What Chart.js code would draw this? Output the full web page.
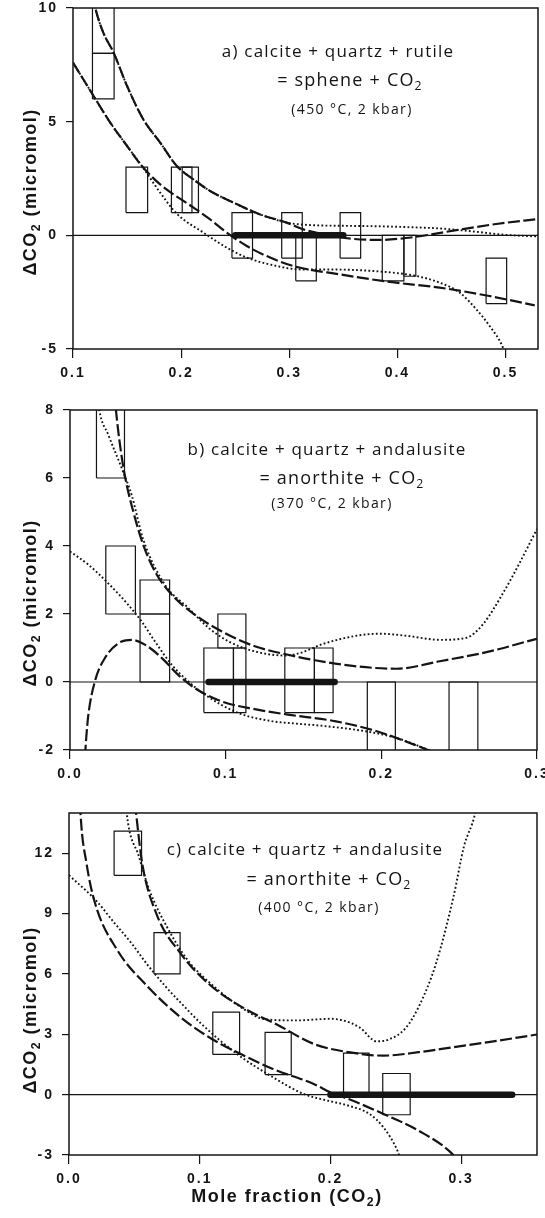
<!DOCTYPE html>
<html>
<head>
<meta charset="utf-8">
<script src="https://cdn.jsdelivr.net/npm/chart.js@4.4.0/dist/chart.umd.min.js"></script>
<style>
  html, body { margin: 0; padding: 0; background: #fff; }
  #wrap { position: relative; width: 545px; height: 1218px; overflow: hidden; }
  #wrap canvas { position: absolute; left: 0; }
</style>
</head>
<body>
<div id="wrap">
  <canvas id="panel-a"></canvas>
  <canvas id="panel-b"></canvas>
  <canvas id="panel-c"></canvas>
</div>
<script>
/* ---------- panel a : calcite + quartz + rutile = sphene + CO2 (450 °C) ---------- */
const aXRange = [0.1, 0.53];
const aYRange = [-5, 10];
const aXTicks = [0.1, 0.2, 0.3, 0.4, 0.5];
const aYTicks = [-5, 0, 5, 10];
// [x1, x2, yLow, yHigh]
const aBoxes = [
  [0.118, 0.138, 8, 10.5], [0.118, 0.138, 6, 8], [0.149, 0.169, 1, 3],
  [0.191, 0.210, 1, 3], [0.201, 0.216, 1, 3], [0.247, 0.266, -1, 1],
  [0.293, 0.312, -1, 1], [0.306, 0.325, -2, 0], [0.347, 0.366, -1, 1],
  [0.386, 0.406, -2, 0], [0.406, 0.417, -1.8, 0], [0.482, 0.501, -3, -1]
];
const aBar = [0.25, 0.35];
const aUpperDash = [
  [0.118, 10.6], [0.1206, 10.0], [0.128, 8.92], [0.1375, 8.04], [0.15, 6.57], [0.165, 5.1],
  [0.1806, 4.08], [0.196, 3.05], [0.2114, 2.46], [0.2268, 1.95], [0.2483, 1.44],
  [0.273, 0.92], [0.2976, 0.56], [0.313, 0.26], [0.335, 0.02], [0.3576, -0.15],
  [0.3838, -0.2], [0.4145, -0.08], [0.4545, 0.23], [0.4915, 0.5], [0.53, 0.72]
];
const aUpperDot = [
  [0.118, 10.6], [0.1206, 10.0], [0.128, 8.92], [0.1375, 8.04], [0.15, 6.57], [0.165, 5.1],
  [0.1806, 4.08], [0.196, 3.05], [0.2114, 2.46], [0.2268, 1.95], [0.2483, 1.44],
  [0.273, 0.92], [0.2976, 0.56], [0.32, 0.45], [0.35, 0.42], [0.38, 0.4],
  [0.41, 0.36], [0.44, 0.3], [0.47, 0.17], [0.5, 0.02], [0.53, -0.05]
];
const aLowerDash = [
  [0.1, 7.6], [0.119, 6.13], [0.1344, 4.96], [0.15, 3.93], [0.1637, 3.05], [0.1806, 2.24],
  [0.2114, 1.22], [0.2268, 0.7], [0.2422, 0.12], [0.2607, -0.47], [0.279, -0.91],
  [0.3037, -1.35], [0.347, -1.72], [0.393, -2.05], [0.439, -2.3], [0.485, -2.67], [0.527, -3.08]
];
const aLowerDot = [
  [0.1, 7.6], [0.119, 6.13], [0.1344, 4.96], [0.15, 3.93], [0.1637, 3.05], [0.1806, 1.88],
  [0.196, 0.95], [0.2206, 0.12], [0.2422, -0.54], [0.2607, -0.98], [0.2884, -1.35],
  [0.31, -1.5], [0.3314, -1.5], [0.3776, -1.57], [0.4176, -1.79], [0.439, -2.08],
  [0.4576, -2.52], [0.473, -3.26], [0.4853, -3.99], [0.4976, -4.94], [0.5, -5.3]
];

/* ---------- panel b : calcite + quartz + andalusite (370 °C) ---------- */
const bXRange = [0, 0.3];
const bYRange = [-2, 8];
const bXTicks = [0, 0.1, 0.2, 0.3];
const bYTicks = [-2, 0, 2, 4, 6, 8];
const bBoxes = [
  [0.017, 0.035, 6, 8.5], [0.023, 0.042, 2, 4], [0.045, 0.064, 2, 3], [0.045, 0.064, 0, 2],
  [0.086, 0.105, -0.9, 1], [0.095, 0.113, 1, 2], [0.105, 0.113, -0.9, 1],
  [0.138, 0.157, -0.9, 1], [0.157, 0.169, -0.9, 1],
  [0.191, 0.209, -2.2, 0], [0.2435, 0.262, -2.2, 0]
];
const bBar = [0.089, 0.17];
const bUpperDash = [
  [0.0285, 8.5], [0.0295, 8], [0.0321, 6.98], [0.0353, 6.05], [0.0406, 5.02], [0.047, 4.04],
  [0.0546, 3.25], [0.0653, 2.57], [0.0802, 1.98], [0.0973, 1.49], [0.1187, 1.05],
  [0.1401, 0.8], [0.1562, 0.65], [0.184, 0.46], [0.2097, 0.39], [0.2375, 0.61],
  [0.2696, 0.9], [0.2974, 1.24], [0.3, 1.27]
];
const bUpperDot = [
  [0.0175, 8.5], [0.0188, 8], [0.0246, 7.27], [0.0332, 6.29], [0.0396, 5.5], [0.047, 4.2],
  [0.061, 2.86], [0.0759, 2.18], [0.0888, 1.6], [0.1016, 1.2], [0.1187, 0.9], [0.138, 0.78],
  [0.1476, 0.85], [0.1626, 1.12], [0.184, 1.36], [0.199, 1.42], [0.216, 1.36], [0.2375, 1.24],
  [0.2546, 1.3], [0.2653, 1.7], [0.278, 2.6], [0.2888, 3.5], [0.3, 4.5]
];
const bHumpDash = [
  [0.0096, -2.2], [0.0105, -1.6], [0.0118, -0.96], [0.016, 0.02], [0.0225, 0.71],
  [0.0332, 1.19], [0.0396, 1.24], [0.0481, 1.1], [0.0589, 0.71], [0.0695, 0.21],
  [0.0802, -0.18], [0.0973, -0.57], [0.1187, -0.8], [0.1401, -0.96], [0.17, -1.15],
  [0.195, -1.42], [0.21, -1.65], [0.23, -2.0], [0.236, -2.1]
];
const bLowerDot = [
  [0, 3.84], [0.0118, 3.45], [0.0246, 2.9], [0.0374, 2.27], [0.046, 1.78], [0.0546, 1.19],
  [0.0653, 0.51], [0.0759, 0.02], [0.0866, -0.37], [0.108, -0.91], [0.1294, -1.15],
  [0.1444, -1.22], [0.16, -1.28], [0.19, -1.45], [0.21, -1.65], [0.225, -1.9], [0.233, -2.05]
];

/* ---------- panel c : calcite + quartz + andalusite (400 °C) ---------- */
const cXRange = [0, 0.358];
const cYRange = [-3, 14];
const cXTicks = [0, 0.1, 0.2, 0.3];
const cYTicks = [-3, 0, 3, 6, 9, 12];
const cBoxes = [
  [0.0345, 0.0555, 10.9, 13.1], [0.065, 0.085, 6, 8.05], [0.11, 0.1305, 2, 4.1],
  [0.15, 0.17, 1, 3.1], [0.21, 0.2295, 0, 2.06], [0.24, 0.261, -1, 1.05]
];
const cBar = [0.2, 0.339];
const cUpperDash = [
  [0.0505, 14.5], [0.0513, 14], [0.056, 11.5], [0.0668, 9.0], [0.0856, 7.0], [0.107, 5.5],
  [0.1337, 4.3], [0.1604, 3.44], [0.1872, 2.52], [0.2139, 2.11], [0.2406, 1.94],
  [0.2674, 2.11], [0.2941, 2.36], [0.3209, 2.61], [0.358, 2.99]
];
const cUpperDot = [
  [0.0435, 14.5], [0.0441, 14], [0.0535, 11.83], [0.0615, 10.17], [0.0749, 8.34],
  [0.0909, 6.68], [0.1123, 5.3], [0.1337, 4.25], [0.1497, 3.75], [0.1738, 3.69],
  [0.2005, 3.77], [0.2219, 3.36], [0.2353, 2.65], [0.245, 2.75], [0.2574, 3.3],
  [0.2674, 4.35], [0.2807, 6.51], [0.2941, 9.83], [0.3021, 12.33], [0.3107, 14], [0.312, 14.5]
];
const cLowerDash = [
  [0.0085, 14.5], [0.0088, 14], [0.0134, 11.5], [0.02, 9.5], [0.037, 7.18], [0.0605, 5.35],
  [0.0853, 3.85], [0.109, 2.78], [0.131, 2.03], [0.156, 1.28], [0.1872, 0.53],
  [0.201, 0.08], [0.2139, -0.22], [0.2406, -0.96], [0.2674, -1.79], [0.2928, -2.92], [0.295, -3.1]
];
const cLowerDot = [
  [0, 10.91], [0.0214, 9.6], [0.0339, 8.6], [0.0481, 7.5], [0.0595, 6.5], [0.0749, 5.3],
  [0.085, 4.6], [0.1016, 3.5], [0.1283, 2.03], [0.1551, 0.9], [0.18, 0.02], [0.1979, -0.3],
  [0.2139, -0.55], [0.2299, -0.96], [0.2406, -1.63], [0.2513, -2.79], [0.253, -3.1]
];

/* ---------- drawing ---------- */
const INK = '#141414';
const W = 545;

const pts = arr => arr.map(p => ({ x: p[0], y: p[1] }));
const boxPath = b => [[b[0], b[2]], [b[1], b[2]], [b[1], b[3]], [b[0], b[3]], [b[0], b[2]]];

// rich text: strings are normal text, {sub: '2'} is a subscript
function drawRich(ctx, parts, cx, cy, o) {
  const fontOf = s => `${o.weight || 'normal'} ${s}px ${o.family}`;
  ctx.letterSpacing = (o.ls || 0) + 'px';
  let total = 0;
  parts.forEach(p => {
    const sub = typeof p !== 'string';
    ctx.font = fontOf(sub ? o.size * 0.68 : o.size);
    total += ctx.measureText(sub ? p.sub : p).width;
  });
  let x = cx - total / 2;
  ctx.textAlign = 'left';
  ctx.textBaseline = 'middle';
  ctx.fillStyle = INK;
  parts.forEach(p => {
    const sub = typeof p !== 'string';
    ctx.font = fontOf(sub ? o.size * 0.68 : o.size);
    const t = sub ? p.sub : p;
    ctx.fillText(t, x, sub ? cy + o.size * 0.3 : cy);
    x += ctx.measureText(t).width;
  });
  ctx.letterSpacing = '0px';
}

const NOTE1 = { family: '"Open Sans", sans-serif', size: 17, ls: 1.2 };
const NOTE2 = { family: '"Open Sans", sans-serif', size: 18, ls: 1.2 };
const NOTE3 = { family: '"Open Sans", sans-serif', size: 14, ls: 1.4 };
const TITLE = { family: '"Liberation Sans", Arial, sans-serif', size: 18, weight: 'bold', ls: 1.5 };
const Y_TITLE = ['\u0394CO', { sub: '2' }, ' (micromol)'];

const panels = [
  {
    id: 'panel-a', top: 0, height: 395,
    area: { left: 73, right: 538, top: 8, bottom: 349 },
    xRange: aXRange, yRange: aYRange, xTicks: aXTicks, yTicks: aYTicks,
    boxes: aBoxes, bar: aBar,
    dotted: [aUpperDot, aLowerDot], dashed: [aUpperDash, aLowerDash],
    notes: [
      { parts: ['a) calcite + quartz + rutile'], x: 338, y: 52, f: NOTE1 },
      { parts: ['= sphene + CO', { sub: '2' }], x: 350, y: 81, f: NOTE2 },
      { parts: ['(450 \u00B0C, 2 kbar)'], x: 352, y: 110, f: NOTE3 }
    ],
    yTitleY: 192
  },
  {
    id: 'panel-b', top: 395, height: 405,
    area: { left: 70, right: 537, top: 15, bottom: 355 },
    xRange: bXRange, yRange: bYRange, xTicks: bXTicks, yTicks: bYTicks,
    boxes: bBoxes, bar: bBar,
    dotted: [bUpperDot, bLowerDot], dashed: [bUpperDash, bHumpDash],
    notes: [
      { parts: ['b) calcite + quartz + andalusite'], x: 327, y: 55, f: NOTE1 },
      { parts: ['= anorthite + CO', { sub: '2' }], x: 342, y: 84, f: NOTE2 },
      { parts: ['(370 \u00B0C, 2 kbar)'], x: 332, y: 109, f: NOTE3 }
    ],
    yTitleY: 208
  },
  {
    id: 'panel-c', top: 800, height: 418,
    area: { left: 69, right: 537, top: 13, bottom: 355 },
    xRange: cXRange, yRange: cYRange, xTicks: cXTicks, yTicks: cYTicks,
    boxes: cBoxes, bar: cBar,
    dotted: [cUpperDot, cLowerDot], dashed: [cUpperDash, cLowerDash],
    notes: [
      { parts: ['c) calcite + quartz + andalusite'], x: 305, y: 50, f: NOTE1 },
      { parts: ['= anorthite + CO', { sub: '2' }], x: 329, y: 80, f: NOTE2 },
      { parts: ['(400 \u00B0C, 2 kbar)'], x: 319, y: 108, f: NOTE3 }
    ],
    yTitleY: 210,
    xTitle: { parts: ['Mole fraction (CO', { sub: '2' }, ')'], x: 287, y: 397 }
  }
];

function lineSet(data, extra) {
  return Object.assign({
    data: pts(data), showLine: true, fill: false, pointRadius: 0,
    borderColor: INK, borderWidth: 1.2, tension: 0
  }, extra || {});
}

function buildDatasets(p) {
  const ds = [];
  p.boxes.forEach(b => ds.push(lineSet(boxPath(b), { borderJoinStyle: 'miter' })));
  ds.push(lineSet([[p.xRange[0], 0], [p.xRange[1], 0]], { borderWidth: 1.1 }));
  p.dotted.forEach(c => ds.push(lineSet(c, {
    borderWidth: 1.9, borderDash: [1.8, 2.3], cubicInterpolationMode: 'monotone', capBezierPoints: false
  })));
  p.dashed.forEach(c => ds.push(lineSet(c, {
    borderWidth: 2.2, borderDash: [12, 3.5], cubicInterpolationMode: 'monotone', capBezierPoints: false
  })));
  ds.push(lineSet([[p.bar[0], 0], [p.bar[1], 0]], { borderWidth: 6.5, borderCapStyle: 'round' }));
  return ds;
}

const tickFont = { family: '"Liberation Sans", Arial, sans-serif', size: 14, weight: 'bold' };

panels.forEach(p => {
  const canvas = document.getElementById(p.id);
  canvas.width = W;
  canvas.height = p.height;
  canvas.style.top = p.top + 'px';

  const figurePlugin = {
    id: 'figure',
    beforeDraw(chart) {
      chart.ctx.letterSpacing = '2px';
    },
    afterDraw(chart) {
      const ctx = chart.ctx;
      const a = chart.chartArea;
      ctx.save();
      ctx.letterSpacing = '0px';
      // plot frame
      ctx.strokeStyle = INK;
      ctx.lineWidth = 1.5;
      ctx.strokeRect(a.left, a.top, a.right - a.left, a.bottom - a.top);
      // reaction notes
      p.notes.forEach(n => drawRich(ctx, n.parts, n.x, n.y, n.f));
      // y axis title
      ctx.save();
      ctx.translate(31, p.yTitleY);
      ctx.rotate(-Math.PI / 2);
      drawRich(ctx, Y_TITLE, 0, 0, TITLE);
      ctx.restore();
      if (p.xTitle) drawRich(ctx, p.xTitle.parts, p.xTitle.x, p.xTitle.y, TITLE);
      ctx.restore();
    }
  };

  new Chart(canvas, {
    type: 'scatter',
    data: { datasets: buildDatasets(p) },
    options: {
      responsive: false,
      animation: false,
      events: [],
      layout: { padding: { left: 0, top: p.area.top, right: W - p.area.right, bottom: 0 } },
      plugins: { legend: { display: false }, tooltip: { enabled: false } },
      scales: {
        x: {
          type: 'linear', position: 'bottom',
          min: p.xRange[0], max: p.xRange[1],
          afterBuildTicks: s => { s.ticks = p.xTicks.map(v => ({ value: v })); },
          ticks: { callback: v => Number(v).toFixed(1), font: tickFont, color: INK, padding: 7, maxRotation: 0, autoSkip: false },
          grid: { drawOnChartArea: false, drawTicks: true, tickLength: 9, color: INK, lineWidth: 1.2 },
          border: { display: false },
          afterFit: s => { s.height = p.height - p.area.bottom; s.paddingLeft = 0; s.paddingRight = 0; }
        },
        y: {
          type: 'linear', position: 'left',
          min: p.yRange[0], max: p.yRange[1],
          afterBuildTicks: s => { s.ticks = p.yTicks.map(v => ({ value: v })); },
          ticks: { callback: v => String(v), font: tickFont, color: INK, padding: 8, autoSkip: false },
          grid: { drawOnChartArea: false, drawTicks: true, tickLength: 7, color: INK, lineWidth: 1.2 },
          border: { display: false },
          afterFit: s => { s.width = p.area.left; s.paddingTop = 0; s.paddingBottom = 0; }
        }
      }
    },
    plugins: [figurePlugin]
  });
});
</script>
</body>
</html>
